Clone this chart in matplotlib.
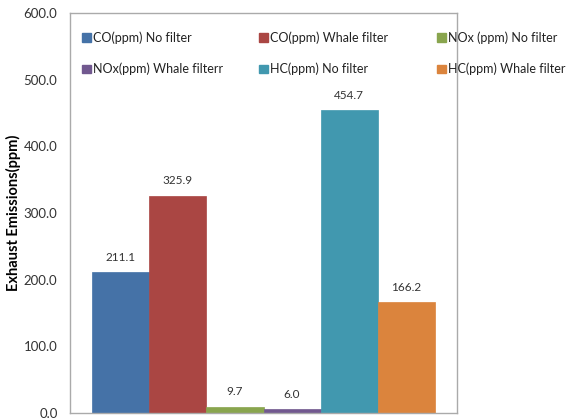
import matplotlib
matplotlib.use("Agg")
import matplotlib.pyplot as plt
from matplotlib.patches import Patch

series = ["CO(ppm) No filter", "CO(ppm) Whale filter", "NOx (ppm) No filter",
          "NOx(ppm) Whale filterr", "HC(ppm) No filter", "HC(ppm) Whale filter"]
values = [211.1, 325.9, 9.7, 6.0, 454.7, 166.2]
colors = ["#4572A7", "#AA4643", "#89A54E", "#71588F", "#4198AF", "#DB843D"]
yticks = [0, 100, 200, 300, 400, 500, 600]

plt.rcParams['font.family'] = ['Lato', 'DejaVu Sans']

fig = plt.figure(figsize=(5.68, 4.19), dpi=100)
ax = fig.add_axes([70/568, 6/419, 387/568, 400/419])

w = 343/387/6
start = -0.5 + 22/387
handles = []
for i, (s, v, c) in enumerate(zip(series, values, colors)):
    x = start + w*(i + 0.5)
    ax.bar(x, v, width=w, color=c, edgecolor=c, linewidth=0.5, label=s)
    ax.text(x, v + 14, f"{v:.1f}", ha='center', va='bottom', fontsize=8.5, color='#333333')
    handles.append(Patch(facecolor=c, edgecolor=c))

ax.set_xlim(-0.5, 0.5)
ax.set_ylim(0, 600)
ax.set_yticks(yticks)
ax.set_yticklabels([f"{t:.1f}" for t in yticks], fontsize=9.5, color='#333333')
ax.set_xticks([])
ax.tick_params(axis='y', length=0, pad=9)
for sp in ax.spines.values():
    sp.set_color('#aaaaaa')
    sp.set_linewidth(1)
ax.set_ylabel("Exhaust Emissions(ppm)", fontsize=10.5, fontweight='bold')
ax.yaxis.set_label_coords(-0.127, 0.5)

# legends: three columns, rows placed explicitly
col_x = [82/568, 259/568, 437/568]
for j in range(3):
    idx = [j, j + 3]
    leg = fig.legend([handles[k] for k in idx], [series[k] for k in idx],
                     loc='upper left', bbox_to_anchor=(col_x[j], 1 - 31/419),
                     frameon=False, fontsize=9, handlelength=0.7, handleheight=0.7,
                     handletextpad=0.2, borderpad=0, borderaxespad=0, labelspacing=1.55)
    for t in leg.get_texts():
        t.set_color('#222222')

fig.savefig("out.png", dpi=100)
